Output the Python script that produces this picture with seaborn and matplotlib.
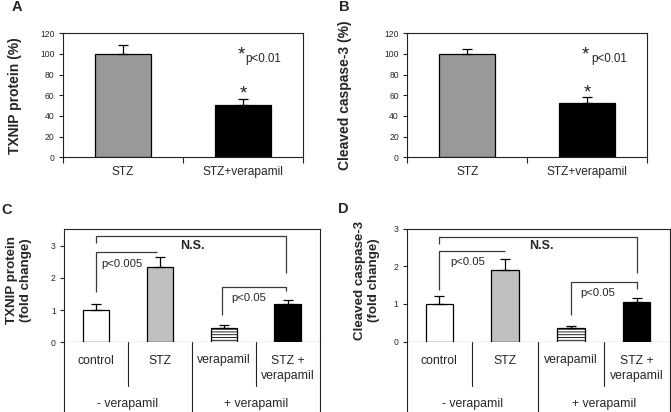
import matplotlib
matplotlib.use("Agg")
import matplotlib.pyplot as plt
import seaborn as sns
import pandas as pd
import numpy as np

# ---------------- data ----------------
ab_cats = ["STZ", "STZ+verapamil"]
a_vals = [100, 51]
a_err = [9, 5.5]
b_vals = [100, 53]
b_err = [4.5, 5.5]

cd_cats = ["control", "STZ", "verapamil", "STZ +\nverapamil"]
c_vals = [1.0, 2.33, 0.45, 1.18]
c_err = [0.18, 0.31, 0.08, 0.13]
d_vals = [1.0, 1.90, 0.35, 1.05]
d_err = [0.22, 0.29, 0.07, 0.11]
groups = ["- verapamil", "+ verapamil"]

sns.set_theme(style="white")
plt.rcParams['font.family'] = ['Liberation Sans', 'DejaVu Sans']
plt.rcParams['hatch.linewidth'] = 0.6
plt.rcParams['hatch.color'] = 'black'

W, H = 671, 412
fig = plt.figure(figsize=(W / 100, H / 100), dpi=100)


def rect(l, t, r, b):
    return [l / W, 1 - b / H, (r - l) / W, (b - t) / H]


def px(x, y):
    return x / W, 1 - y / H


LC = '#222222'


def style_box(ax):
    for s in ax.spines.values():
        s.set_visible(True)
        s.set_linewidth(0.8)
        s.set_color(LC)


def top_err(ax, vals, errs):
    x = np.arange(len(vals))
    ax.errorbar(x, vals, yerr=[np.zeros(len(vals)), errs], fmt='none',
                ecolor='black', elinewidth=0.9, capsize=3.5, capthick=0.9, zorder=5)


def panel_ab(rectpx, cats, vals, errs, ylabel, letter, letter_xy, ylab_x, star_pos, p_pos, bar_star):
    ax = fig.add_axes(rect(*rectpx))
    df = pd.DataFrame({"cat": cats, "val": vals})
    sns.barplot(data=df, x="cat", y="val", hue="cat", ax=ax,
                palette={cats[0]: "#999999", cats[1]: "#000000"},
                width=0.465, edgecolor="black", linewidth=0.9, legend=False, errorbar=None)
    top_err(ax, vals, errs)
    style_box(ax)
    ax.set_xlim(-0.5, 1.5)
    ax.set_ylim(0, 120)
    ax.set_yticks(range(0, 121, 20))
    ax.tick_params(axis='y', which='major', left=True, length=3, width=0.8, color=LC,
                   labelsize=6.2, pad=3)
    ax.set_xticks([0, 1])
    ax.set_xticklabels(cats, fontsize=8.6)
    ax.tick_params(axis='x', which='major', length=0, pad=6)
    ax.set_xticks([-0.5, 0.5, 1.5], minor=True)
    ax.tick_params(axis='x', which='minor', bottom=True, length=4, width=0.8, color=LC)
    ax.set_xlabel("")
    ax.set_ylabel("")
    cy = (rectpx[1] + rectpx[3]) / 2
    fig.text(*px(ylab_x, cy), ylabel, rotation=90, ha='center', va='center',
             fontsize=10, fontweight='bold')
    fig.text(*px(*letter_xy), letter, ha='center', va='center', fontsize=10.5, fontweight='bold')
    sx, sy = star_pos
    ax.text(sx, sy, "*", ha='center', va='center', fontsize=13.5, color='#222222')
    ax.text(p_pos[0], p_pos[1], "p<0.01", ha='left', va='center', fontsize=8.4)
    bx, by = bar_star
    ax.text(bx, by, "*", ha='center', va='center', fontsize=13.5, color='#222222')
    return ax


def panel_cd(rectpx, vals, errs, ymax, ylabel, letter, letter_xy, ylab_x, brackets, texts, barw):
    l, t, r, b = rectpx
    ax = fig.add_axes(rect(l, t, r, b))
    df = pd.DataFrame({"cat": cd_cats, "val": vals})
    pal = {cd_cats[0]: "white", cd_cats[1]: "#c0c0c0", cd_cats[2]: "white", cd_cats[3]: "black"}
    sns.barplot(data=df, x="cat", y="val", hue="cat", ax=ax, palette=pal,
                width=barw, edgecolor="black", linewidth=0.9, legend=False, errorbar=None)
    ax.patches[2].set_hatch('------')
    top_err(ax, vals, errs)
    style_box(ax)
    ax.set_xlim(-0.5, 3.5)
    ax.set_ylim(0, ymax)
    ax.set_yticks([0, 1, 2, 3])
    ax.tick_params(axis='y', left=True, length=3, width=0.8, color=LC, labelsize=6.2, pad=3)
    ax.set_xticks([])
    ax.set_xlabel("")
    ax.set_ylabel("")
    for pts in brackets:
        xs, ys = zip(*pts)
        ax.plot(xs, ys, color='#3a3a3a', lw=0.9, solid_capstyle='butt', zorder=4)
    for (tx, ty, s, bold) in texts:
        ax.text(tx, ty, s, ha='center', va='center',
                fontsize=9 if bold else 8.2, fontweight='bold' if bold else 'normal')

    # table below
    tax = fig.add_axes(rect(l, b, r, H))
    tax.set_xlim(-0.5, 3.5)
    tax.set_ylim(H, b)
    tax.set_xticks([])
    tax.set_yticks([])
    for s in ['top', 'bottom']:
        tax.spines[s].set_visible(False)
    for s in ['left', 'right']:
        tax.spines[s].set_visible(True)
        tax.spines[s].set_linewidth(0.8)
        tax.spines[s].set_color(LC)
    tax.plot([0.5, 0.5], [b, 386], color=LC, lw=0.8)
    tax.plot([1.5, 1.5], [b, H], color=LC, lw=0.8)
    tax.plot([2.5, 2.5], [b, 386], color=LC, lw=0.8)
    for i, c in enumerate(cd_cats):
        tax.text(i, 354.5, c, ha='center', va='top', fontsize=8.8, linespacing=1.35)
    tax.text(0.5, 403.5, groups[0], ha='center', va='center', fontsize=8.8)
    tax.text(2.5, 403.5, groups[1], ha='center', va='center', fontsize=8.8)

    cy = 280
    fig.text(*px(ylab_x, cy), ylabel, rotation=90, ha='center', va='center',
             fontsize=9.6, fontweight='bold', linespacing=1.15)
    fig.text(*px(*letter_xy), letter, ha='center', va='center', fontsize=10.5, fontweight='bold')
    return ax


panel_ab((63, 33.3, 303, 157.3), ab_cats, a_vals, a_err, "TXNIP protein (%)", "A", (17, 7), 15,
         (0.99, 99), (1.017, 95), (1.0, 61.5))
panel_ab((407.3, 33.3, 647.3, 157.3), ab_cats, b_vals, b_err, "Cleaved caspase-3 (%)", "B", (344, 7), 345,
         (0.98, 99.5), (1.03, 95.5), (0.997, 62.5))

c_brackets = [
    [(0, 3.07), (0, 3.30), (2.98, 3.30), (2.98, 2.14)],
    [(0, 1.57), (0, 2.80), (0.95, 2.80)],
    [(1.98, 0.85), (1.98, 1.73), (2.98, 1.73), (2.98, 1.59)],
]
c_texts = [(1.51, 3.0, "N.S.", True), (0.40, 2.42, "p<0.005", False), (2.39, 1.38, "p<0.05", False)]
panel_cd((64, 228.5, 319.5, 342.3), c_vals, c_err, 3.53, "TXNIP protein\n(fold change)", "C", (7, 210), 19,
         c_brackets, c_texts, 0.41)

d_brackets = [
    [(0, 2.60), (0, 2.78), (3.0, 2.78), (3.0, 1.81)],
    [(0, 1.37), (0, 2.41), (1.0, 2.41)],
    [(2.0, 0.71), (2.0, 1.57), (3.0, 1.57), (3.0, 1.39)],
]
d_texts = [(1.55, 2.54, "N.S.", True), (0.43, 2.10, "p<0.05", False), (2.41, 1.28, "p<0.05", False)]
panel_cd((406.5, 228.5, 669.5, 341.7), d_vals, d_err, 3.0, "Cleaved caspase-3\n(fold change)", "D", (343, 209), 367,
         d_brackets, d_texts, 0.42)

fig.savefig("out.png", dpi=100)
